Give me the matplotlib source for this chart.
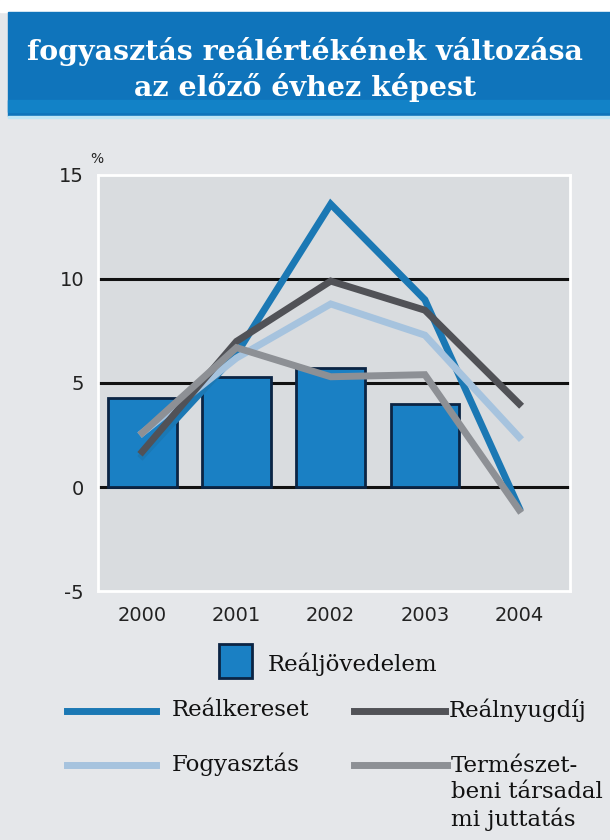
import matplotlib
matplotlib.use("Agg")
import matplotlib.pyplot as plt
from matplotlib.patches import Rectangle
from matplotlib.lines import Line2D

# adatok
years = ["2000", "2001", "2002", "2003", "2004"]
realjovedelem = [4.3, 5.3, 5.7, 4.0]          # oszlopok 2000-2003
realkereset = [1.5, 6.4, 13.6, 9.0, -1.0]
realnyugdij = [1.7, 7.0, 9.9, 8.5, 4.0]
fogyasztas = [2.6, 6.2, 8.8, 7.3, 2.4]
termeszetbeni = [2.6, 6.7, 5.3, 5.4, -1.1]
yticks = [-5, 0, 5, 10, 15]

W, H = 610, 840
bg = "#e5e7ea"
plot_bg = "#d9dcdf"
bar_c = "#1a80c4"
c_ker = "#1b78b4"
c_nyug = "#515257"
c_fogy = "#a6c3de"
c_term = "#8d9095"

fig = plt.figure(figsize=(W / 100, H / 100), dpi=100, facecolor=bg)


def fx(x):
    return x / W


def fy(y):
    return 1 - y / H


# fejléc
fig.patches.append(Rectangle((0, fy(12)), 1, 12 / H, transform=fig.transFigure, color="white", zorder=0))
fig.patches.append(Rectangle((fx(8), fy(116)), 1, (116 - 12) / H, transform=fig.transFigure, color="#0f74bb", zorder=0))
fig.patches.append(Rectangle((fx(8), fy(112)), 1, 12 / H, transform=fig.transFigure, color="#1282c7", zorder=0))
fig.patches.append(Rectangle((fx(8), fy(118)), 1, 2.5 / H, transform=fig.transFigure, color="#bfe6f6", zorder=0))
fig.text(0.5, fy(52), "fogyasztás reálértékének változása", ha="center", va="center",
         color="white", fontsize=20.5, fontweight="bold", family="DejaVu Serif")
fig.text(0.5, fy(87), "az előző évhez képest", ha="center", va="center",
         color="white", fontsize=20.5, fontweight="bold", family="DejaVu Serif")

ax = fig.add_axes([fx(98), fy(591), fx(570) - fx(98), fy(175) - fy(591)])
ax.set_facecolor(plot_bg)
x = list(range(len(years)))

for yv in [0, 5, 10]:
    ax.axhline(yv, color="#111111", lw=2.2, zorder=1)

ax.bar(x[:4], realjovedelem, width=0.73, color=bar_c, edgecolor="#0b2444", linewidth=2, zorder=2)

ax.plot(x, realkereset, color=c_ker, lw=5, zorder=3, solid_joinstyle="miter")
ax.plot(x, fogyasztas, color=c_fogy, lw=5, zorder=4, solid_joinstyle="miter")
ax.plot(x, realnyugdij, color=c_nyug, lw=5, zorder=5, solid_joinstyle="miter")
ax.plot(x, termeszetbeni, color=c_term, lw=5, zorder=6, solid_joinstyle="miter")

ax.set_xlim(-0.47, 4.54)
ax.set_ylim(-5, 15)
ax.set_xticks(x)
ax.set_xticklabels(years)
ax.set_yticks(yticks)
ax.set_yticklabels([str(v) for v in yticks])
ax.tick_params(length=0, labelsize=14, colors="#222222")
ax.tick_params(axis="x", pad=11)
ax.tick_params(axis="y", pad=10)
for s in ax.spines.values():
    s.set_color("white")
    s.set_linewidth(2)

fig.text(fx(97), fy(159), "%", ha="center", va="center", fontsize=10, color="#222222")

# jelmagyarázat
lfont = dict(family="DejaVu Serif", fontsize=16.5, color="#111111", ha="left")
fig.patches.append(Rectangle((fx(219), fy(678)), fx(252) - fx(219), (678 - 644) / H,
                             transform=fig.transFigure, facecolor=bar_c, edgecolor="#0b2444", lw=2))
fig.text(fx(268), fy(664), "Reáljövedelem", va="center", **lfont)

items = [
    (67, 156, 711, c_ker, 172, "Reálkereset"),
    (354, 445, 711, c_nyug, 449, "Reálnyugdíj"),
    (67, 156, 765, c_fogy, 172, "Fogyasztás"),
    (354, 447, 765, c_term, 451, "Természet-\nbeni társadal\nmi juttatás"),
]
for x0, x1, yy, col, tx, lab in items:
    fig.add_artist(Line2D([fx(x0), fx(x1)], [fy(yy), fy(yy)], transform=fig.transFigure,
                          color=col, lw=5))
    if "\n" in lab:
        fig.text(fx(tx), fy(yy - 10), lab, va="top", linespacing=1.25, **lfont)
    else:
        fig.text(fx(tx), fy(yy - 1), lab, va="center", **lfont)

fig.savefig("out.png", dpi=100, facecolor=bg)
